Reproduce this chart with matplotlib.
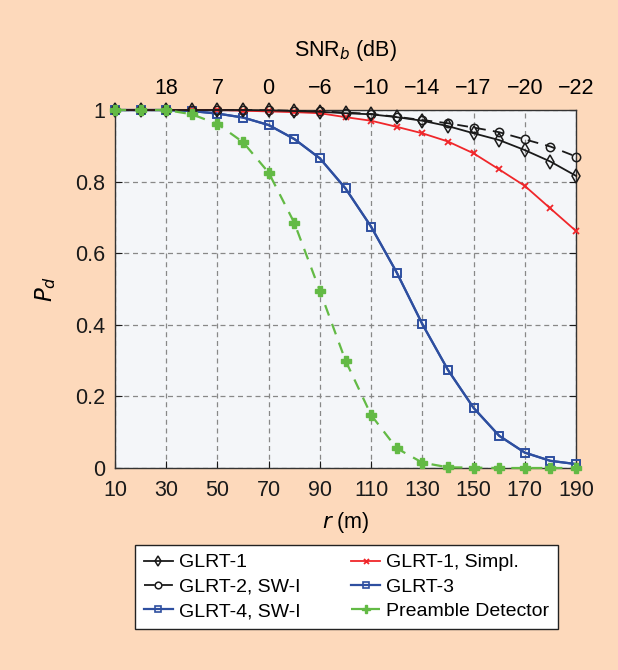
import matplotlib
matplotlib.use("Agg")
import matplotlib.pyplot as plt
import numpy as np

r = [10, 20, 30, 40, 50, 60, 70, 80, 90, 100, 110, 120, 130, 140, 150, 160, 170, 180, 190]
glrt1 = [1, 1, 1, 1, 1, 1, 0.999, 0.997, 0.995, 0.991, 0.988, 0.98, 0.97, 0.955, 0.935, 0.916, 0.888, 0.856, 0.816]
glrt2 = [1, 1, 1, 1, 1, 1, 0.999, 0.998, 0.996, 0.993, 0.989, 0.981, 0.972, 0.963, 0.951, 0.938, 0.918, 0.898, 0.870]
glrt1s = [1, 1, 1, 1, 1, 0.998, 0.996, 0.994, 0.991, 0.98, 0.97, 0.953, 0.935, 0.912, 0.879, 0.834, 0.788, 0.725, 0.662]
glrt3 = [1, 1, 1, 0.997, 0.99, 0.979, 0.958, 0.919, 0.865, 0.781, 0.674, 0.546, 0.402, 0.274, 0.168, 0.090, 0.043, 0.020, 0.011]
glrt4 = list(glrt3)
pre = [1, 1, 1, 0.988, 0.961, 0.91, 0.825, 0.685, 0.495, 0.30, 0.148, 0.055, 0.015, 0.002, 0.001, 0.0, 0.0, 0.0, 0.0]

top_ticks = [30, 50, 70, 90, 110, 130, 150, 170, 190]
top_labels = ["18", "7", "0", "\u22126", "\u221210", "\u221214", "\u221217", "\u221220", "\u221222"]
bottom_ticks = [10, 30, 50, 70, 90, 110, 130, 150, 170, 190]
y_ticks = [0, 0.2, 0.4, 0.6, 0.8, 1]
y_labels = ["0", "0.2", "0.4", "0.6", "0.8", "1"]

peach = "#FDD9BB"
plt.rcParams['font.family'] = ['Liberation Sans', 'DejaVu Sans']

fig = plt.figure(figsize=(6.18, 6.70), dpi=100, facecolor=peach)
ax = fig.add_axes([115/618, 1-468/670, (576-115)/618, (468-110)/670])
ax.set_facecolor("#F4F6F9")

black = "#1a1a1a"
red = "#F0262A"
blue = "#2E4FA0"
green = "#63BA45"

l1, = ax.plot(r, glrt1, '-', color=black, lw=1.3, marker='d', ms=7, mfc='none', mec=black, mew=1.1, label="GLRT-1", zorder=5)
l2, = ax.plot(r, glrt2, '--', color=black, lw=1.3, dashes=(6, 4), marker='o', ms=6, mfc='none', mec=black, mew=1.1, label="GLRT-2, SW-I", zorder=4)
l3, = ax.plot(r, glrt1s, '-', color=red, lw=1.3, marker='x', ms=4.5, mec=red, mew=1.3, label="GLRT-1, Simpl.", zorder=4)
l4, = ax.plot(r, glrt3, '-', color=blue, lw=1.6, marker='s', ms=5.5, mfc='none', mec=blue, mew=1.2, label="GLRT-3", zorder=3)
l5, = ax.plot(r, glrt4, '-', color=blue, lw=1.6, marker='s', ms=5.5, mfc='none', mec=blue, mew=1.2, label="GLRT-4, SW-I", zorder=3)
l6, = ax.plot(r, pre, '--', color=green, lw=1.6, dashes=(5, 4), marker='P', ms=7, mfc=green, mec=green, label="Preamble Detector", zorder=6, clip_on=False)

ax.set_xlim(10, 190)
ax.set_ylim(0, 1)
ax.set_xticks(bottom_ticks)
ax.set_yticks(y_ticks)
ax.set_yticklabels(y_labels)
ax.grid(True, color="#888888", linestyle=(0, (4, 3)), lw=0.9)
ax.tick_params(direction='in', length=5, labelsize=15.5, right=True, top=False, colors=black)
ax.tick_params(axis='x', pad=9)
ax.tick_params(axis='y', pad=7)
for s in ax.spines.values():
    s.set_color("#333333")
    s.set_linewidth(1.0)
for line in [l1, l2, l3, l4, l5]:
    line.set_clip_on(False)

ax.set_xlabel("$r$ (m)", fontsize=15.5, labelpad=6)
ax.set_ylabel("$P_d$", fontsize=16.5, labelpad=12)

ax2 = ax.twiny()
ax2.set_xlim(ax.get_xlim())
ax2.set_xticks(top_ticks)
ax2.set_xticklabels(top_labels)
ax2.tick_params(direction='in', length=0, labelsize=15.5, pad=8)
ax2.set_xlabel("SNR$_b$ (dB)", fontsize=15.5, labelpad=16)
for s in ax2.spines.values():
    s.set_visible(False)

leg = fig.legend(handles=[l1, l2, l5, l3, l4, l6], labels=["GLRT-1", "GLRT-2, SW-I", "GLRT-4, SW-I", "GLRT-1, Simpl.", "GLRT-3", "Preamble Detector"],
                 ncol=2, loc='upper left', bbox_to_anchor=(135/618, 1-545/670), borderaxespad=0, fontsize=14,
                 frameon=True, fancybox=False, edgecolor="#222222", facecolor="white", framealpha=1,
                 handlelength=1.5, handletextpad=0.3, columnspacing=2.6, labelspacing=0.35, borderpad=0.45,
                 markerscale=0.8)
leg.get_frame().set_linewidth(1.0)

fig.savefig("out.png", dpi=100, facecolor=peach)
